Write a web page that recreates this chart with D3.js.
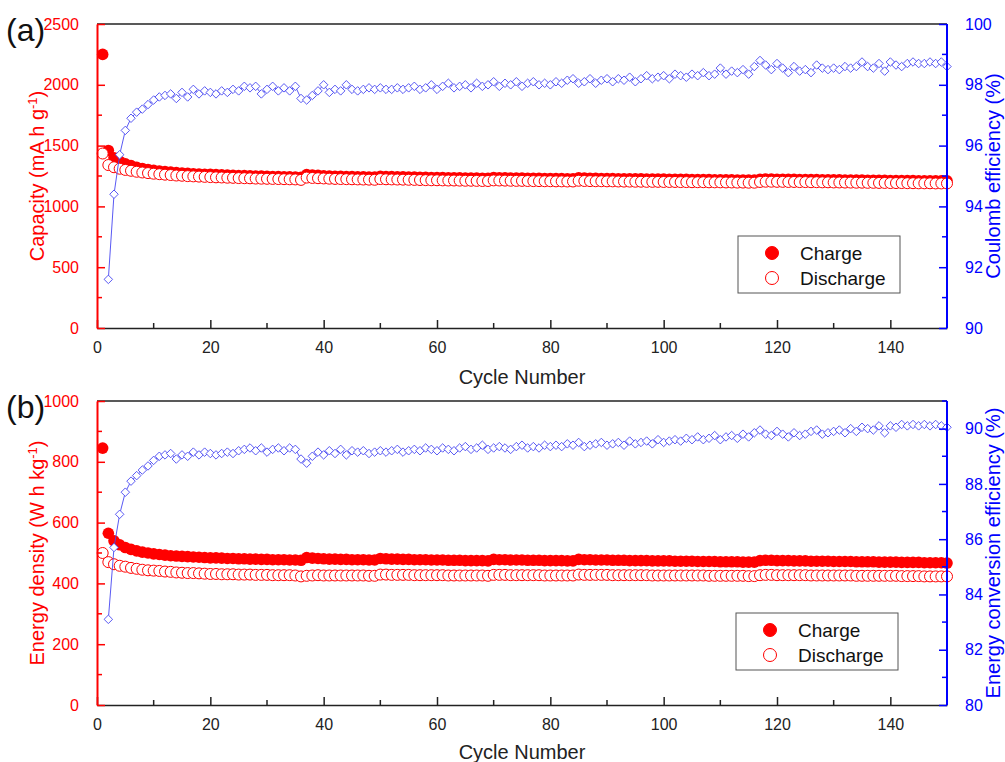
<!DOCTYPE html>
<html>
<head>
<meta charset="utf-8">
<script src="https://cdn.jsdelivr.net/npm/d3@7"></script>
<style>
body { margin: 0; background: #fff; }
svg { font-family: Arial, "Liberation Sans", sans-serif; }
</style>
</head>
<body>
<div id="chart"></div>
<script>
// cycle data for the two panels

const capCharge = [
	2250,1460,1400,1370,1350,1335,1322,1312,1304,1297,
	1291,1286,1282,1278,1275,1272,1269,1267,1265,1263,
	1261,1259,1257,1256,1254,1253,1251,1250,1249,1247,
	1246,1245,1244,1243,1241,1240,1262,1258,1255,1252,
	1250,1248,1247,1246,1245,1244,1243,1242,1241,1248,
	1246,1245,1244,1243,1242,1241,1240,1239,1238,1238,
	1237,1236,1236,1235,1234,1234,1233,1232,1232,1238,
	1236,1235,1234,1233,1233,1232,1231,1231,1230,1230,
	1229,1229,1228,1228,1235,1233,1232,1231,1230,1229,
	1229,1228,1227,1227,1226,1226,1225,1225,1224,1224,
	1223,1223,1222,1222,1221,1221,1220,1220,1219,1219,
	1218,1218,1217,1217,1216,1216,1222,1224,1224,1223,
	1223,1222,1222,1221,1221,1220,1220,1219,1219,1218,
	1218,1217,1217,1216,1216,1215,1215,1214,1214,1213,
	1213,1213,1212,1212,1211,1211,1211,1210,1210,1210
];

const capDischarge = [
	1435,1340,1322,1310,1300,1293,1285,1279,1274,1269,
	1265,1261,1258,1254,1252,1249,1247,1245,1243,1241,
	1239,1238,1236,1235,1233,1232,1231,1229,1228,1227,
	1226,1225,1224,1223,1222,1218,1237,1234,1232,1230,
	1228,1226,1225,1224,1223,1222,1221,1220,1219,1225,
	1223,1222,1221,1220,1219,1218,1217,1216,1215,1215,
	1214,1213,1213,1212,1211,1211,1210,1209,1209,1214,
	1213,1212,1211,1210,1210,1209,1208,1208,1207,1207,
	1206,1206,1205,1205,1211,1209,1208,1207,1207,1206,
	1206,1205,1204,1204,1203,1203,1202,1202,1202,1201,
	1201,1201,1200,1200,1199,1199,1199,1198,1198,1198,
	1197,1197,1196,1196,1195,1195,1201,1203,1203,1202,
	1202,1201,1201,1200,1200,1199,1199,1198,1198,1197,
	1197,1196,1196,1195,1195,1194,1194,1193,1193,1192,
	1192,1192,1191,1191,1190,1190,1190,1189,1189,1189
];

// coulomb efficiency, starts at cycle 2
const coulombEff = [
	91.6,94.4,95.7,96.5,96.9,97.1,97.2,97.35,97.5,97.6,
	97.65,97.7,97.55,97.75,97.6,97.85,97.7,97.8,97.75,97.7,
	97.8,97.75,97.85,97.8,97.95,97.9,97.95,97.7,97.85,97.95,
	97.8,97.9,97.8,97.95,97.55,97.5,97.65,97.8,98.0,97.75,
	97.85,97.8,98.0,97.85,97.8,97.85,97.9,97.85,97.9,97.85,
	97.85,97.9,97.85,97.9,97.95,97.85,97.9,98.0,97.85,97.95,
	98.05,97.9,97.95,98.0,97.9,98.05,97.95,98.0,98.1,97.95,
	98.05,98.0,98.1,97.95,98.05,98.1,98.0,98.05,98.0,98.1,
	98.05,98.15,98.2,98.05,98.1,98.2,98.05,98.15,98.2,98.1,
	98.2,98.15,98.25,98.1,98.2,98.3,98.2,98.25,98.3,98.2,
	98.35,98.3,98.25,98.35,98.3,98.4,98.3,98.35,98.55,98.35,
	98.45,98.4,98.5,98.35,98.6,98.8,98.65,98.5,98.7,98.55,
	98.4,98.6,98.45,98.5,98.4,98.65,98.55,98.5,98.55,98.5,
	98.6,98.55,98.6,98.75,98.6,98.55,98.7,98.45,98.75,98.65,
	98.6,98.7,98.75,98.7,98.7,98.75,98.7,98.75,98.6
];

const energyCharge = [
	845,565,540,527,518,512,507,503,500,497,
	495,493,491,490,489,488,487,486,485,484,
	484,483,482,482,481,481,480,480,479,479,
	478,478,478,477,477,476,485,483,482,481,
	480,480,479,479,478,478,478,477,477,482,
	481,480,480,479,479,478,478,478,477,477,
	477,476,476,476,475,475,475,475,474,479,
	478,478,477,477,477,476,476,476,475,475,
	475,475,474,474,479,478,478,477,477,477,
	476,476,476,475,475,475,475,474,474,474,
	474,473,473,473,473,472,472,472,472,471,
	471,471,471,470,470,470,475,476,476,475,
	475,475,474,474,474,473,473,473,473,472,
	472,472,472,471,471,471,471,470,470,470,
	470,469,469,469,469,468,468,468,468,467
];

const energyDischarge = [
	500,470,463,458,455,451,448,445,443,442,
	441,439,438,436,435,434,434,433,432,431,
	431,430,430,430,429,429,429,428,428,428,
	427,427,427,427,426,423,425,426,427,426,
	426,426,426,426,426,426,426,425,425,429,
	429,428,428,428,428,427,427,427,427,427,
	427,426,426,426,426,426,426,426,425,428,
	428,428,427,427,427,427,427,427,426,426,
	426,426,426,426,429,428,428,428,428,428,
	427,427,427,427,427,427,427,426,426,426,
	426,426,426,426,426,426,426,425,425,425,
	425,425,425,425,424,424,427,428,428,427,
	427,427,427,427,427,426,426,426,426,426,
	426,426,426,425,425,425,425,425,425,425,
	425,424,424,424,424,423,423,423,423,423
];

// energy conversion efficiency, starts at cycle 2
const energyEff = [
	83.1,85.7,86.9,87.7,88.1,88.3,88.5,88.65,88.85,89.0,
	89.05,89.1,88.9,89.05,89.0,89.15,89.05,89.15,89.1,89.05,
	89.1,89.15,89.1,89.2,89.25,89.3,89.2,89.3,89.15,89.25,
	89.3,89.2,89.3,89.25,88.9,88.75,89.0,89.15,89.05,89.2,
	89.1,89.25,89.05,89.2,89.15,89.2,89.1,89.15,89.2,89.15,
	89.2,89.25,89.15,89.2,89.25,89.2,89.3,89.25,89.2,89.3,
	89.25,89.2,89.3,89.35,89.25,89.3,89.4,89.25,89.3,89.35,
	89.3,89.25,89.35,89.4,89.3,89.35,89.3,89.4,89.35,89.4,
	89.35,89.45,89.4,89.5,89.35,89.4,89.45,89.5,89.4,89.45,
	89.5,89.4,89.55,89.45,89.5,89.55,89.45,89.6,89.5,89.55,
	89.6,89.55,89.65,89.6,89.7,89.6,89.65,89.75,89.6,89.7,
	89.75,89.65,89.8,89.7,89.85,89.95,89.8,89.75,89.9,89.8,
	89.7,89.85,89.75,89.8,89.9,89.95,89.8,89.85,89.9,89.95,
	89.85,90.0,89.9,90.05,90.0,89.95,90.1,89.85,90.1,90.05,
	90.15,90.1,90.15,90.1,90.15,90.1,90.15,90.1,90.05
];

const xTicks = [0, 20, 40, 60, 80, 100, 120, 140];
const legendLabels = ['Charge', 'Discharge'];

const WIDTH = 1005;
const HEIGHT = 762;
const RED = '#ff0000';
const BLUE = '#0000ff';
const DIAMOND = '#4646f2';
const fmt = d3.format('d');

const svg = d3.select('#chart').append('svg')
	.attr('width', WIDTH)
	.attr('height', HEIGHT);

const x = d3.scaleLinear().domain([0, 150]).range([97, 947]);

function drawPanel(p) {
	const yL = d3.scaleLinear().domain(p.leftDomain).range([p.bottom, p.top]);
	const yR = d3.scaleLinear().domain(p.rightDomain).range([p.bottom, p.top]);
	const g = svg.append('g');

	const charge = p.charge.map((v, i) => ({c: i + 1, v}));
	const discharge = p.discharge.map((v, i) => ({c: i + 1, v}));
	const eff = p.eff.map((v, i) => ({c: i + 2, v}));

	g.append('g').selectAll('circle')
		.data(charge)
		.join('circle')
		.attr('cx', d => x(d.c))
		.attr('cy', d => yL(d.v))
		.attr('r', 5.8)
		.attr('fill', RED);

	g.append('g').selectAll('circle')
		.data(discharge)
		.join('circle')
		.attr('cx', d => x(d.c))
		.attr('cy', d => yL(d.v))
		.attr('r', 5.5)
		.attr('fill', '#fff')
		.attr('stroke', RED)
		.attr('stroke-width', 1);

	g.append('path')
		.datum(eff)
		.attr('fill', 'none')
		.attr('stroke', DIAMOND)
		.attr('stroke-width', 0.9)
		.attr('d', d3.line().x(d => x(d.c)).y(d => yR(d.v)));

	const diamond = d3.symbol().type(d3.symbolDiamond2).size(46);
	g.append('g').selectAll('path')
		.data(eff)
		.join('path')
		.attr('transform', d => `translate(${x(d.c)},${yR(d.v)})`)
		.attr('d', diamond)
		.attr('fill', '#fff')
		.attr('stroke', DIAMOND)
		.attr('stroke-width', 0.9);

	// frame: top line
	g.append('line')
		.attr('x1', x(0)).attr('x2', x(150))
		.attr('y1', p.top).attr('y2', p.top)
		.attr('stroke', '#222').attr('stroke-width', 1.5);

	// bottom axis
	const xAxis = g.append('g')
		.attr('transform', `translate(0,${p.bottom})`)
		.call(d3.axisBottom(x).tickValues(xTicks).tickFormat(fmt).tickSizeInner(-8).tickSizeOuter(0).tickPadding(14));
	xAxis.append('g').selectAll('line')
		.data(d3.range(10, 151, 20))
		.join('line')
		.attr('x1', d => x(d)).attr('x2', d => x(d))
		.attr('y1', 0).attr('y2', -5)
		.attr('stroke', '#222').attr('stroke-width', 1.5);
	xAxis.select('.domain').attr('stroke', '#222').attr('stroke-width', 1.5);
	xAxis.selectAll('.tick line').attr('stroke', '#222').attr('stroke-width', 1.5);
	xAxis.selectAll('.tick text').attr('fill', '#222').style('font-size', '16px');

	// left axis
	const lAxis = g.append('g')
		.attr('transform', `translate(${x(0)},0)`)
		.call(d3.axisLeft(yL).tickValues(p.leftTicks).tickFormat(fmt).tickSizeInner(-8).tickSizeOuter(0).tickPadding(18));
	lAxis.append('g').selectAll('line')
		.data(p.leftMinor)
		.join('line')
		.attr('y1', d => yL(d)).attr('y2', d => yL(d))
		.attr('x1', 0).attr('x2', 5)
		.attr('stroke', RED).attr('stroke-width', 1.5);
	lAxis.select('.domain').attr('stroke', RED).attr('stroke-width', 2);
	lAxis.selectAll('.tick line').attr('stroke', RED).attr('stroke-width', 1.5);
	lAxis.selectAll('.tick text').attr('fill', RED).style('font-size', '16px');

	// right axis
	const rAxis = g.append('g')
		.attr('transform', `translate(${x(150)},0)`)
		.call(d3.axisRight(yR).tickValues(p.rightTicks).tickFormat(fmt).tickSizeInner(-8).tickSizeOuter(0).tickPadding(18));
	rAxis.append('g').selectAll('line')
		.data(p.rightMinor)
		.join('line')
		.attr('y1', d => yR(d)).attr('y2', d => yR(d))
		.attr('x1', 0).attr('x2', -5)
		.attr('stroke', BLUE).attr('stroke-width', 1.5);
	rAxis.select('.domain').attr('stroke', BLUE).attr('stroke-width', 2)
		.attr('d', `M0,${p.bottom}V${p.top}`);
	rAxis.selectAll('.tick line').attr('stroke', BLUE).attr('stroke-width', 1.5);
	rAxis.selectAll('.tick text').attr('fill', BLUE).style('font-size', '16px');

	// panel letter
	g.append('text')
		.attr('x', 6).attr('y', p.top + 17)
		.style('font-size', '32px')
		.attr('fill', '#111')
		.text(p.letter);

	// axis titles
	const lt = g.append('text')
		.attr('transform', `translate(44,${(p.top + p.bottom) / 2}) rotate(-90)`)
		.attr('text-anchor', 'middle')
		.attr('fill', RED)
		.style('font-size', '20px');
	lt.append('tspan').text(p.leftTitle);
	lt.append('tspan').attr('dy', -7).style('font-size', '13px').text('-1');
	lt.append('tspan').attr('dy', 7).text(')');

	g.append('text')
		.attr('transform', `translate(1000,${(p.top + p.bottom) / 2}) rotate(-90)`)
		.attr('text-anchor', 'middle')
		.attr('fill', BLUE)
		.style('font-size', '20px')
		.text(p.rightTitle);

	g.append('text')
		.attr('x', (x(0) + x(150)) / 2)
		.attr('y', p.bottom + p.xTitleOffset)
		.attr('text-anchor', 'middle')
		.attr('fill', '#222')
		.style('font-size', '20px')
		.text('Cycle Number');

	// legend
	const lg = g.append('g').attr('transform', `translate(${p.legend[0]},${p.legend[1]})`);
	lg.append('rect')
		.attr('width', 162).attr('height', 57)
		.attr('fill', '#fff')
		.attr('stroke', '#555').attr('stroke-width', 1);
	legendLabels.forEach((name, i) => {
		const cy = 17 + i * 25;
		lg.append('circle')
			.attr('cx', 34).attr('cy', cy).attr('r', 6.5)
			.attr('fill', i === 0 ? RED : '#fff')
			.attr('stroke', RED).attr('stroke-width', 1);
		lg.append('text')
			.attr('x', 62).attr('y', cy + 7)
			.attr('fill', '#111')
			.style('font-size', '19px')
			.text(name);
	});
}

drawPanel({
	top: 24, bottom: 328,
	leftDomain: [0, 2500], leftTicks: [0, 500, 1000, 1500, 2000, 2500],
	leftMinor: [250, 750, 1250, 1750, 2250],
	rightDomain: [90, 100], rightTicks: [90, 92, 94, 96, 98, 100],
	rightMinor: [91, 93, 95, 97, 99],
	charge: capCharge, discharge: capDischarge, eff: coulombEff,
	letter: '(a)',
	leftTitle: 'Capacity (mA h g',
	rightTitle: 'Coulomb efficiency (%)',
	xTitleOffset: 56,
	legend: [738, 236]
});

drawPanel({
	top: 401, bottom: 705,
	leftDomain: [0, 1000], leftTicks: [0, 200, 400, 600, 800, 1000],
	leftMinor: [100, 300, 500, 700, 900],
	rightDomain: [80, 91], rightTicks: [80, 82, 84, 86, 88, 90],
	rightMinor: [81, 83, 85, 87, 89, 91],
	charge: energyCharge, discharge: energyDischarge, eff: energyEff,
	letter: '(b)',
	leftTitle: 'Energy density (W h kg',
	rightTitle: 'Energy conversion efficiency (%)',
	xTitleOffset: 54,
	legend: [736, 613]
});
</script>
</body>
</html>
